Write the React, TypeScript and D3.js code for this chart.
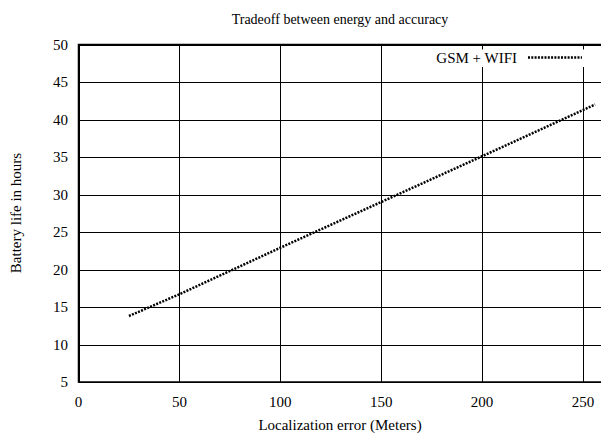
import React from "react";
import * as d3 from "d3";

const xTicks = [0, 50, 100, 150, 200, 250];
const yTicks = [5, 10, 15, 20, 25, 30, 35, 40, 45, 50];
const seriesX = [25, 50, 100, 150, 200, 256];
const seriesY = [13.8, 16.7, 22.9, 29.0, 35.1, 42.0];
const seriesName = "GSM + WIFI";
const title = "Tradeoff between energy and accuracy";
const xLabel = "Localization error (Meters)";
const yLabel = "Battery life in hours";

const W = 601, H = 434;
const L = 78.5, R = 604, T = 44.5, B = 382;

export default function App() {
  const x = d3.scaleLinear().domain([0, (R - L) / 2.018]).range([L, R]);
  const y = d3.scaleLinear().domain([5, 50]).range([B, T]);
  const pts = seriesX.map((v, i) => [v, seriesY[i]] as [number, number]);
  const line = d3.line<[number, number]>().x(d => x(d[0])).y(d => y(d[1]));
  const font = "'Liberation Serif', 'Times New Roman', serif";
  const legY = 57.5;
  return (
    <svg width={W} height={H} style={{ position: "absolute", left: 0, top: 0, background: "#fff" }} fontFamily={font}>
      <rect x={0} y={0} width={W} height={H} fill="#fff" />
      {yTicks.map(t => (
        <line key={"gy" + t} x1={L} x2={R} y1={Math.round(y(t)) + 0.5} y2={Math.round(y(t)) + 0.5} stroke="#000" strokeWidth={1} />
      ))}
      {xTicks.map(t => (
        <line key={"gx" + t} x1={Math.round(x(t)) + 0.5} x2={Math.round(x(t)) + 0.5} y1={T} y2={B} stroke="#000" strokeWidth={1} />
      ))}
      {/* legend background */}
      <rect x={400} y={48} width={198} height={19} fill="#fff" />
      {xTicks.map(t => (
        <line key={"tt" + t} x1={Math.round(x(t)) + 0.5} x2={Math.round(x(t)) + 0.5} y1={T} y2={T + 5} stroke="#000" strokeWidth={1} />
      ))}
      <rect x={L} y={T} width={R - L} height={B - T} fill="none" stroke="#000" strokeWidth={1.5} />
      <path d={line(pts) || ""} fill="none" stroke="#000" strokeWidth={2.5} strokeDasharray="2 1.3" />
      <text x={517} y={legY + 5} fontSize={15} textAnchor="end">{seriesName}</text>
      <line x1={528} x2={582} y1={legY} y2={legY} stroke="#000" strokeWidth={2.5} strokeDasharray="2 1.3" />
      {yTicks.map(t => (
        <text key={"yl" + t} x={68} y={y(t) + 5} fontSize={15} textAnchor="end">{t}</text>
      ))}
      {xTicks.map(t => (
        <text key={"xl" + t} x={x(t)} y={407} fontSize={15} textAnchor="middle">{t}</text>
      ))}
      <text x={340} y={24} fontSize={14} textAnchor="middle">{title}</text>
      <text x={340} y={430} fontSize={15} textAnchor="middle">{xLabel}</text>
      <text transform={`translate(21,213) rotate(-90)`} fontSize={15} textAnchor="middle">{yLabel}</text>
    </svg>
  );
}
